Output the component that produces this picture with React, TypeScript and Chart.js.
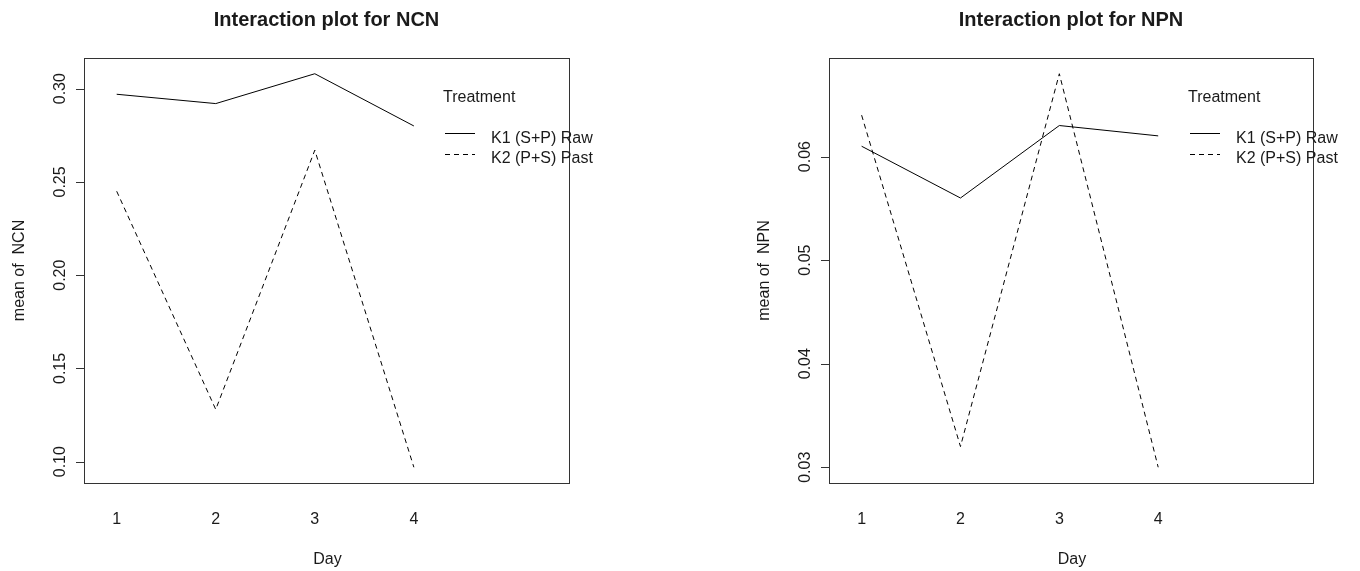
import React, { useEffect, useRef } from 'react';
import { Chart, registerables } from 'chart.js';

Chart.register(...registerables);

// ---- data ----
const days = [1, 2, 3, 4];
const dayLabels = ['1', '2', '3', '4'];
const treatments = ['K1 (S+P) Raw', 'K2 (P+S) Past'];
const ncnK1 = [0.297, 0.292, 0.308, 0.28];
const ncnK2 = [0.245, 0.128, 0.267, 0.097];
const npnK1 = [0.061, 0.056, 0.063, 0.062];
const npnK2 = [0.064, 0.032, 0.068, 0.03];
const ncnTicks = [0.1, 0.15, 0.2, 0.25, 0.3];
const ncnTickLabels = ['0.10', '0.15', '0.20', '0.25', '0.30'];
const npnTicks = [0.03, 0.04, 0.05, 0.06];
const npnTickLabels = ['0.03', '0.04', '0.05', '0.06'];
const xMin = 0.67;
const xMax = 5.566;

const FONT = '"Liberation Sans", Arial, Helvetica, sans-serif';
const TEXT = '#1a1a1a';
const DASH = [5, 4];

function padRange(a: number[], b: number[]): [number, number] {
  const lo = Math.min(...a, ...b);
  const hi = Math.max(...a, ...b);
  const d = (hi - lo) * 0.04;
  return [lo - d, hi + d];
}

const rPlot = {
  id: 'rPlot',
  afterDraw(chart: any, _args: any, opts: any) {
    const ctx = chart.ctx as CanvasRenderingContext2D;
    const { left, right, top, bottom } = chart.chartArea;
    const xs = chart.scales.x;
    const ys = chart.scales.y;
    ctx.save();
    // box
    ctx.strokeStyle = '#333';
    ctx.lineWidth = 1;
    ctx.setLineDash([]);
    ctx.strokeRect(Math.round(left) + 0.5, Math.round(top) + 0.5, Math.round(right - left), Math.round(bottom - top));

    // y ticks + labels
    ctx.fillStyle = TEXT;
    ctx.font = `16px ${FONT}`;
    opts.ticks.forEach((t: number, i: number) => {
      const y = Math.round(ys.getPixelForValue(t)) + 0.5;
      ctx.beginPath();
      ctx.moveTo(left - 8, y);
      ctx.lineTo(left, y);
      ctx.stroke();
      ctx.save();
      ctx.translate(left - 19, ys.getPixelForValue(t));
      ctx.rotate(-Math.PI / 2);
      ctx.textAlign = 'center';
      ctx.textBaseline = 'alphabetic';
      ctx.fillText(opts.tickLabels[i], 0, 0);
      ctx.restore();
    });

    // y axis title
    ctx.save();
    ctx.translate(left - 60, (top + bottom) / 2);
    ctx.rotate(-Math.PI / 2);
    ctx.textAlign = 'center';
    ctx.textBaseline = 'alphabetic';
    ctx.fillText(opts.yTitle, 0, 0);
    ctx.restore();

    // x tick labels
    ctx.textAlign = 'center';
    ctx.textBaseline = 'alphabetic';
    days.forEach((d, i) => {
      ctx.fillText(dayLabels[i], xs.getPixelForValue(d), 524);
    });
    // x title
    ctx.fillText('Day', (left + right) / 2 + 1, 564);

    // main title
    ctx.font = `bold 20px ${FONT}`;
    ctx.fillText(opts.title, (left + right) / 2, 26);

    // legend
    ctx.font = `16px ${FONT}`;
    ctx.textAlign = 'left';
    ctx.fillText('Treatment', left + 359, 102);
    const rows = [133.5, 154.5];
    const bases = [142.5, 163];
    treatments.forEach((name, i) => {
      ctx.strokeStyle = '#000';
      ctx.lineWidth = 1;
      ctx.setLineDash(i === 0 ? [] : DASH);
      ctx.beginPath();
      ctx.moveTo(left + 361, rows[i]);
      ctx.lineTo(left + 391, rows[i]);
      ctx.stroke();
      ctx.fillText(name, left + 407, bases[i]);
    });
    ctx.restore();
  },
};

type PanelProps = {
  title: string;
  yTitle: string;
  k1: number[];
  k2: number[];
  ticks: number[];
  tickLabels: string[];
  padLeft: number;
  padRight: number;
  offsetX: number;
};

function Panel(p: PanelProps) {
  const ref = useRef<HTMLCanvasElement | null>(null);
  useEffect(() => {
    if (!ref.current) return;
    const [yMin, yMax] = padRange(p.k1, p.k2);
    const chart = new Chart(ref.current, {
      type: 'line',
      data: {
        datasets: [
          {
            label: treatments[0],
            data: days.map((d, i) => ({ x: d, y: p.k1[i] })),
            borderColor: '#000',
            borderWidth: 1,
            pointRadius: 0,
            tension: 0,
            fill: false,
          },
          {
            label: treatments[1],
            data: days.map((d, i) => ({ x: d, y: p.k2[i] })),
            borderColor: '#000',
            borderWidth: 1,
            borderDash: DASH,
            pointRadius: 0,
            tension: 0,
            fill: false,
          },
        ],
      },
      options: {
        responsive: false,
        animation: false,
        devicePixelRatio: 1,
        layout: { padding: { left: p.padLeft, right: p.padRight, top: 58, bottom: 88 } },
        scales: {
          x: { type: 'linear', min: xMin, max: xMax, display: false },
          y: { type: 'linear', min: yMin, max: yMax, display: false },
        },
        plugins: {
          legend: { display: false },
          title: { display: false },
          tooltip: { enabled: false },
          rPlot: { title: p.title, yTitle: p.yTitle, ticks: p.ticks, tickLabels: p.tickLabels },
        } as any,
      },
      plugins: [rPlot],
    } as any);
    return () => chart.destroy();
  }, []);
  return (
    <div style={{ position: 'absolute', left: p.offsetX, top: 0, width: 680, height: 571 }}>
      <canvas ref={ref} width={680} height={571} style={{ display: 'block' }} />
    </div>
  );
}

export default function App() {
  return (
    <div style={{ position: 'absolute', left: 0, top: 0, width: 1360, height: 571, background: '#fff', overflow: 'hidden' }}>
      <Panel
        title="Interaction plot for NCN"
        yTitle="mean of  NCN"
        k1={ncnK1}
        k2={ncnK2}
        ticks={ncnTicks}
        tickLabels={ncnTickLabels}
        padLeft={84}
        padRight={111}
        offsetX={0}
      />
      <Panel
        title="Interaction plot for NPN"
        yTitle="mean of  NPN"
        k1={npnK1}
        k2={npnK2}
        ticks={npnTicks}
        tickLabels={npnTickLabels}
        padLeft={149}
        padRight={47}
        offsetX={680}
      />
    </div>
  );
}
